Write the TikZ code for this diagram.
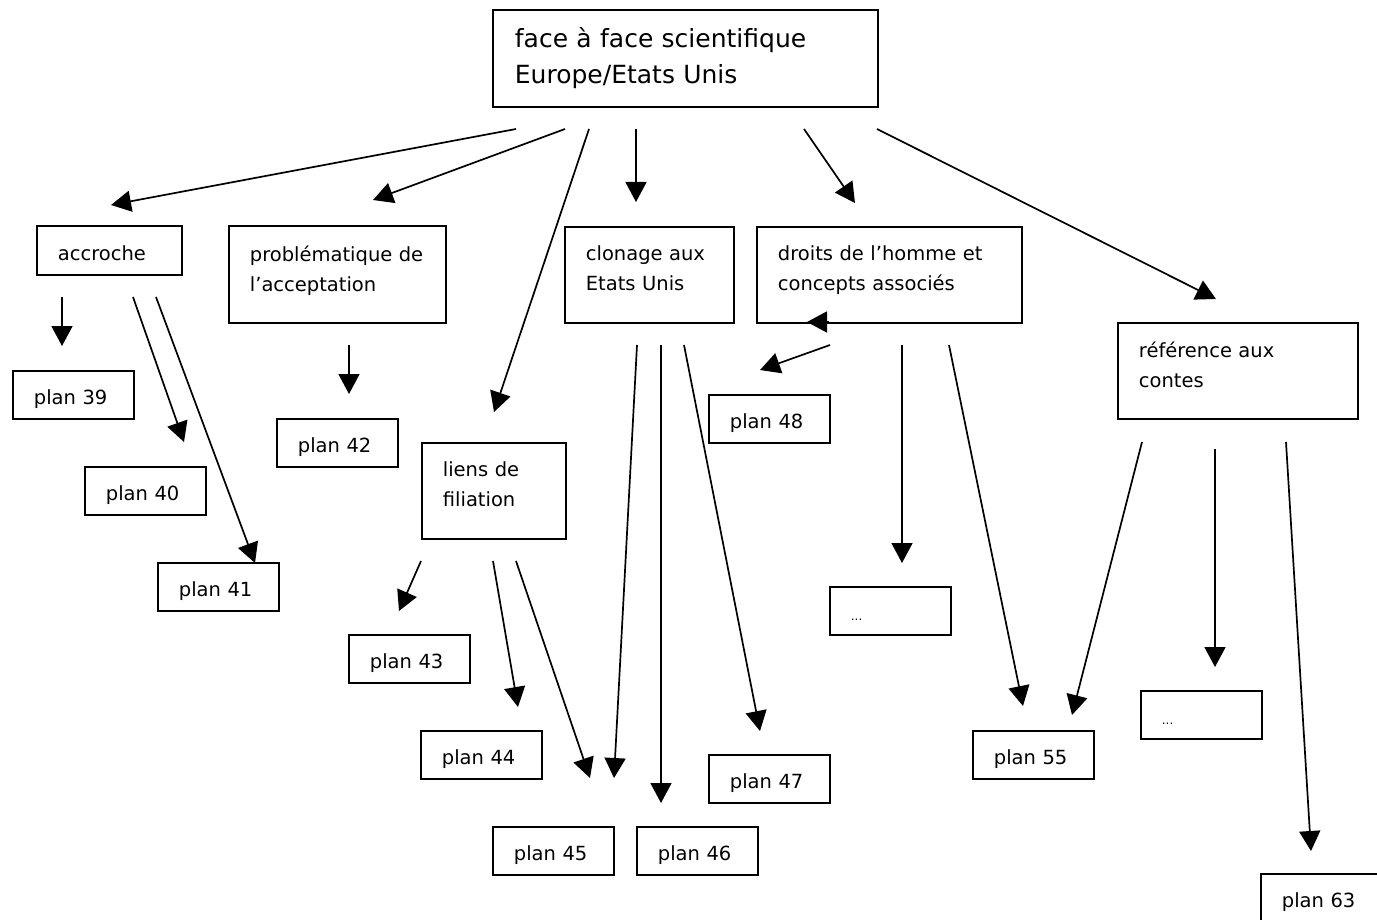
\documentclass[tikz,border=0pt]{standalone}
\usepackage{fontspec}
\setmainfont{DejaVu Sans}
\usetikzlibrary{arrows.meta}

\tikzset{
  box/.style={draw=black, line width=1.8pt, anchor=north west, inner xsep=21pt, inner ysep=0pt,
    align=left, font=\fontsize{19.5}{30}\selectfont},
  plan/.style={box, text width=79pt, text height=34pt, text depth=14pt},
  dots/.style={plan, font=\fontsize{12}{14}\selectfont},
  arr/.style={black, line width=1.7pt, -{Triangle[length=20pt,width=21pt]}}
}

\begin{document}
\begin{tikzpicture}[x=1pt,y=1pt]
\useasboundingbox (0,0) rectangle (1377,-920);
% theme boxes
\node [box, inner xsep=22pt, text width=341pt, text height=38pt, text depth=59pt,
  font=\fontsize{25}{36}\selectfont] (top) at (492,-9) {face à face scientifique\\Europe/Etats~Unis};
\node [box, text width=103pt, text height=35pt, text depth=14pt] (accroche) at (36,-225) {accroche};
\node [box, text width=175pt, text height=36pt, text depth=61pt] (probleme) at (228,-225) {problématique~de\\l’acceptation};
\node [box, text width=127pt, text height=34pt, text depth=62pt] (clonage) at (564,-226) {clonage~aux\\Etats~Unis};
\node [box, text width=223pt, text height=34pt, text depth=62pt] (droits) at (756,-226) {droits~de~l’homme~et\\concepts~associés};
\node [box, text width=198pt, text height=35pt, text depth=61pt] (contes) at (1117,-322) {référence~aux\\contes};
\node [box, text width=102pt, text height=34pt, text depth=62pt] (liens) at (421,-442) {liens~de\\filiation};
% plan boxes
\node [plan] (p39) at (12,-370) {plan 39};
\node [plan] (p40) at (84,-466) {plan 40};
\node [plan] (p41) at (157,-562) {plan 41};
\node [plan] (p42) at (276,-418) {plan 42};
\node [plan] (p43) at (348,-634) {plan 43};
\node [plan] (p44) at (420,-730) {plan 44};
\node [plan] (p45) at (492,-826) {plan 45};
\node [plan] (p46) at (636,-826) {plan 46};
\node [plan] (p47) at (708,-754) {plan 47};
\node [plan] (p48) at (708,-394) {plan 48};
\node [plan] (p55) at (972,-730) {plan 55};
\node [plan] (p63) at (1260,-873) {plan 63};
\node [dots] (etc1) at (829,-586) {...};
\node [dots] (etc2) at (1140,-690) {...};
% arrow ends
\coordinate (t1) at (516,-129); \coordinate (t1e) at (111,-205);
\coordinate (t2) at (565,-129); \coordinate (t2e) at (373,-200);
\coordinate (t3) at (589,-129); \coordinate (t3e) at (494,-412);
\coordinate (t4) at (636,-129); \coordinate (t4e) at (636,-202);
\coordinate (t5) at (804,-129); \coordinate (t5e) at (855,-203);
\coordinate (t6) at (877,-129); \coordinate (t6e) at (1216,-299);
\coordinate (a1) at (62,-297); \coordinate (a1e) at (62,-346);
\coordinate (a2) at (133,-297); \coordinate (a2e) at (184,-442);
\coordinate (a3) at (156,-297); \coordinate (a3e) at (255,-563);
\coordinate (b1) at (349,-345); \coordinate (b1e) at (349,-394);
\coordinate (l1) at (421,-561); \coordinate (l1e) at (399,-611);
\coordinate (l2) at (493,-561); \coordinate (l2e) at (518,-707);
\coordinate (l3) at (516,-561); \coordinate (l3e) at (590,-778);
\coordinate (c1) at (637,-345); \coordinate (c1e) at (614,-778);
\coordinate (c2) at (661,-345); \coordinate (c2e) at (661,-803);
\coordinate (c3) at (684,-345); \coordinate (c3e) at (760,-731);
\coordinate (d0) at (829,-322); \coordinate (d0e) at (807,-322);
\coordinate (d1) at (830,-345); \coordinate (d1e) at (760,-370);
\coordinate (d2) at (902,-345); \coordinate (d2e) at (902,-563);
\coordinate (d3) at (949,-345); \coordinate (d3e) at (1023,-706);
\coordinate (r1) at (1142,-442); \coordinate (r1e) at (1072,-715);
\coordinate (r2) at (1215,-449); \coordinate (r2e) at (1215,-667);
\coordinate (r3) at (1286,-442); \coordinate (r3e) at (1311,-851);
% arrows
\draw [arr] (t1) -- (t1e);
\draw [arr] (t2) -- (t2e);
\draw [arr] (t3) -- (t3e);
\draw [arr] (t4) -- (t4e);
\draw [arr] (t5) -- (t5e);
\draw [arr] (t6) -- (t6e);
\draw [arr] (a1) -- (a1e);
\draw [arr] (a2) -- (a2e);
\draw [arr] (a3) -- (a3e);
\draw [arr] (b1) -- (b1e);
\draw [arr] (l1) -- (l1e);
\draw [arr] (l2) -- (l2e);
\draw [arr] (l3) -- (l3e);
\draw [arr] (c1) -- (c1e);
\draw [arr] (c2) -- (c2e);
\draw [arr] (c3) -- (c3e);
\draw [arr] (d0) -- (d0e);
\draw [arr] (d1) -- (d1e);
\draw [arr] (d2) -- (d2e);
\draw [arr] (d3) -- (d3e);
\draw [arr] (r1) -- (r1e);
\draw [arr] (r2) -- (r2e);
\draw [arr] (r3) -- (r3e);
\end{tikzpicture}
\end{document}
